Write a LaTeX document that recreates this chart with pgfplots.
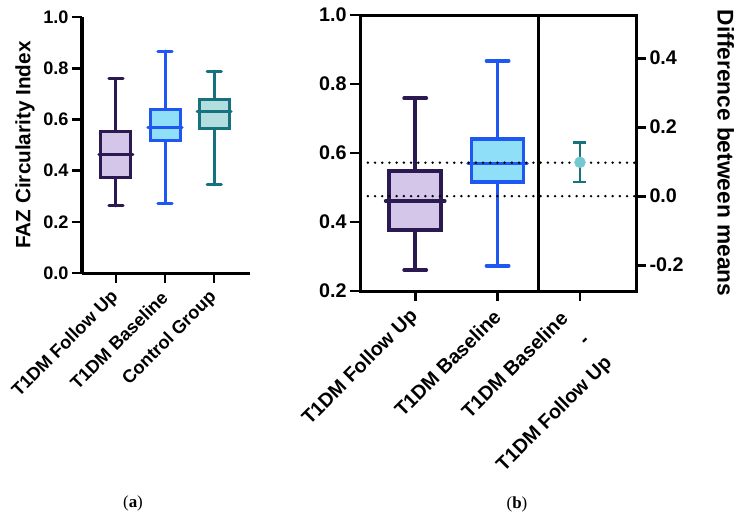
\documentclass[border=0pt]{standalone}
\usepackage{fontspec}
\setmainfont{Liberation Sans}
\newfontfamily\capfont{Liberation Serif}
\usepackage{pgfplots}
\pgfplotsset{compat=1.18}
\usepgfplotslibrary{statistics}
\definecolor{fupE}{HTML}{2B1A52}
\definecolor{fupF}{HTML}{D3C6E8}
\definecolor{basE}{HTML}{1F57F2}
\definecolor{basF}{HTML}{8FDFF9}
\definecolor{conE}{HTML}{16727C}
\definecolor{conF}{HTML}{B3DEE0}
\definecolor{difF}{HTML}{73C9CF}
\pgfplotsset{
  common/.style={
    scale only axis,
    clip=false,
    tick align=outside,
    major tick length=10bp,
    /pgf/number format/assume math mode=true,
    yticklabel style={/pgf/number format/fixed, /pgf/number format/fixed zerofill, /pgf/number format/precision=1},
    boxplot/draw direction=y,
    boxplot/draw/median/.code={\draw[/pgfplots/boxplot/every median/.try] (boxplot box cs:\pgfplotsboxplotvalue{median},-0.07) -- (boxplot box cs:\pgfplotsboxplotvalue{median},1.07);},
  },
  pa/.style={common,
    every tick/.style={black, line width=2.6bp},
    axis line style={line width=3bp, black},
    every outer x axis line/.append style={line width=3bp, black},
    every outer y axis line/.append style={line width=3bp, black},
    ticklabel style={font=\bfseries\fontsize{18.2}{32}\selectfont},
    boxplot/box extend=0.61,
    boxplot/whisker extend=0.29,
  },
  pb/.style={common,
    every tick/.style={black, line width=2.8bp},
    axis line style={line width=3bp, black},
    every outer y axis line/.append style={line width=3bp, black},
    ticklabel style={font=\bfseries\fontsize{19.8}{31}\selectfont},
    boxplot/box extend=0.63,
    boxplot/whisker extend=0.27,
  },
  bx/.style n args={3}{line width=#3, draw=#1, fill=#2, line cap=round, solid, mark=none},
}
\begin{document}
\begin{tikzpicture}
\useasboundingbox (0,0) rectangle (736bp,-519bp);
% ---------- panel (a)
\begin{axis}[pa, at={(82bp,-273bp)}, anchor=south west, width=168bp, height=256bp,
  axis x line*=bottom, axis y line*=left,
  xmin=-0.69, xmax=2.73, ymin=0, ymax=1,
  xtick={0,1,2}, xticklabels={T1DM Follow Up, T1DM Baseline, Control Group},
  ytick={0,0.2,0.4,0.6,0.8,1.0},
  xticklabel style={xshift=2bp, yshift=-9bp, rotate=45, anchor=east},
  ylabel={FAZ Circularity Index},
  every axis y label/.style={at={(axis description cs:-0.339,0.5)}, rotate=90, anchor=center, font=\bfseries\fontsize{20.8}{24}\selectfont},
]
\addplot+[bx={fupE}{fupF}{3bp}, boxplot prepared={lower whisker=0.262, lower quartile=0.375, median=0.461, upper quartile=0.551, upper whisker=0.758, draw position=0}] coordinates {};
\addplot+[bx={basE}{basF}{3bp}, boxplot prepared={lower whisker=0.273, lower quartile=0.516, median=0.570, upper quartile=0.640, upper whisker=0.867, draw position=1}] coordinates {};
\addplot+[bx={conE}{conF}{3bp}, boxplot prepared={lower whisker=0.344, lower quartile=0.563, median=0.629, upper quartile=0.676, upper whisker=0.789, draw position=2}] coordinates {};
\end{axis}
% ---------- panel (b) left
\begin{axis}[pb, at={(360bp,-291bp)}, anchor=south west, width=276bp, height=276bp,
  xmin=-0.67, xmax=2.68, ymin=0.2, ymax=1,
  tick pos=left,
  xtick={0,1}, xticklabels={T1DM Follow Up, T1DM Baseline},
  extra x ticks={2}, extra x tick labels={{T1DM Baseline\\-\\T1DM Follow Up}},
  extra x tick style={xticklabel style={xshift=-12bp, yshift=-23bp}},
  ytick={0.2,0.4,0.6,0.8,1.0},
  xticklabel style={xshift=2bp, yshift=-10bp, rotate=45, anchor=east, align=right},
]
\addplot+[bx={fupE}{fupF}{3.6bp}, boxplot prepared={lower whisker=0.261, lower quartile=0.377, median=0.461, upper quartile=0.548, upper whisker=0.759, draw position=0}] coordinates {};
\addplot+[bx={basE}{basF}{3.6bp}, boxplot prepared={lower whisker=0.273, lower quartile=0.516, median=0.570, upper quartile=0.640, upper whisker=0.867, draw position=1}] coordinates {};
\addplot[black, line width=3bp] coordinates {(1.5,0.2) (1.5,1.0)};
\addplot[black, line width=2.7bp, line cap=round, dash pattern=on 0pt off 7.2bp] coordinates {(-0.575,0.475) (2.68,0.475)};
\addplot[black, line width=2.7bp, line cap=round, dash pattern=on 0pt off 7.2bp] coordinates {(-0.575,0.572) (2.68,0.572)};
\end{axis}
% ---------- panel (b) right axis
\begin{axis}[pb, at={(360bp,-291bp)}, anchor=south west, width=276bp, height=276bp,
  xmin=-0.67, xmax=2.68, ymin=-0.275, ymax=0.525,
  axis x line=none, axis y line*=right,
  ytick={-0.2,0,0.2,0.4},
  ylabel={Difference between means},
  every axis y label/.style={at={(axis description cs:1.325,0.5)}, rotate=-90, anchor=center, font=\bfseries\fontsize{22.8}{26}\selectfont},
]
\addplot[only marks, mark=*, mark size=5.5bp, mark options={draw=difF, fill=difF},
  error bars/.cd, y dir=both, y explicit,
  error bar style={conE, line width=2.8bp},
  error mark options={rotate=90, mark size=6.5bp, line width=2.8bp, conE}]
  coordinates {(2,0.098) +- (0,0.057)};
\end{axis}
\node[font=\capfont\fontsize{17}{20}\selectfont] at (133bp,-503bp) {(\textbf{a})};
\node[font=\capfont\fontsize{17}{20}\selectfont] at (517bp,-504bp) {(\textbf{b})};
\end{tikzpicture}
\end{document}
